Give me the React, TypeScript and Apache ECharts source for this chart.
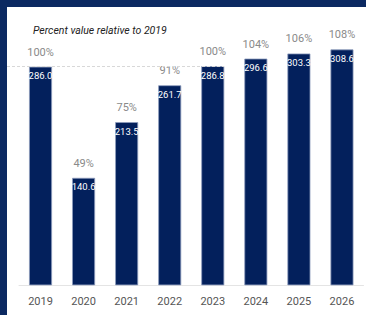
import React, { useEffect, useRef } from "react";
import * as echarts from "echarts";

const categories = ["2019", "2020", "2021", "2022", "2023", "2024", "2025", "2026"];
const values = [286.0, 140.6, 213.5, 261.7, 286.8, 296.6, 303.3, 308.6];
const percents = [100, 49, 75, 91, 100, 104, 106, 108];
const baseValue = 286.0;
const titleText = "Percent value relative to 2019";

const NAVY = "#0b2961";
const BAR = "#03205c";
const FONT = "Roboto, 'DejaVu Sans Condensed', sans-serif";

export default function App() {
  const ref = useRef<HTMLDivElement>(null);
  useEffect(() => {
    document.body.style.margin = "0";
    const chart = echarts.init(ref.current!, null, { renderer: "svg" });
    chart.setOption({
      animation: false,
      backgroundColor: "#ffffff",
      title: {
        text: titleText,
        left: 28,
        top: 20,
        textStyle: { fontSize: 10.5, fontStyle: "italic", fontWeight: "normal", color: "#222", fontFamily: FONT },
      },
      graphic: [
        { type: "rect", shape: { x: 0, y: 0, width: 366, height: 7 }, style: { fill: NAVY }, z: 100 },
        { type: "rect", shape: { x: 0, y: 0, width: 7, height: 315 }, style: { fill: NAVY }, z: 100 },
      ],
      grid: { left: 19, right: 2.5, top: 17.8, bottom: 29.7 },
      xAxis: {
        type: "category",
        data: categories,
        axisLine: { lineStyle: { color: "#e4e4e4", width: 1 } },
        axisTick: { show: false },
        axisLabel: { color: "#555", fontSize: 11, margin: 11, fontFamily: FONT },
      },
      yAxis: {
        type: "value",
        min: 0,
        max: 350,
        show: false,
        splitLine: { show: false },
      },
      series: [
        {
          type: "bar",
          data: values,
          barWidth: 23,
          barGap: "-100%",
          itemStyle: { color: BAR, borderColor: "#8e9cbc", borderWidth: 0.8 },
          label: {
            show: true,
            position: "insideTop",
            distance: 4,
            color: "#ffffff",
            fontSize: 9.5,
            fontFamily: FONT,
            formatter: (p: any) => values[p.dataIndex].toFixed(1),
          },
          markLine: {
            silent: true,
            symbol: "none",
            label: { show: false },
            lineStyle: { color: "#d8d8d8", type: [3, 2], width: 1 },
            data: [
              [
                { xAxis: categories[0], yAxis: baseValue, x: 7 },
                { xAxis: categories[4], yAxis: baseValue, x: 224 },
              ],
            ],
          },
        },
        {
          type: "bar",
          data: values,
          barWidth: 23,
          barGap: "-100%",
          itemStyle: { color: "rgba(0,0,0,0)" },
          label: {
            show: true,
            position: "top",
            distance: 9,
            color: "#8a8a8a",
            fontSize: 11,
            fontFamily: FONT,
            formatter: (p: any) => percents[p.dataIndex] + "%",
          },
        },
      ],
    });
    return () => chart.dispose();
  }, []);
  return <div ref={ref} style={{ width: 366, height: 315 }} />;
}
